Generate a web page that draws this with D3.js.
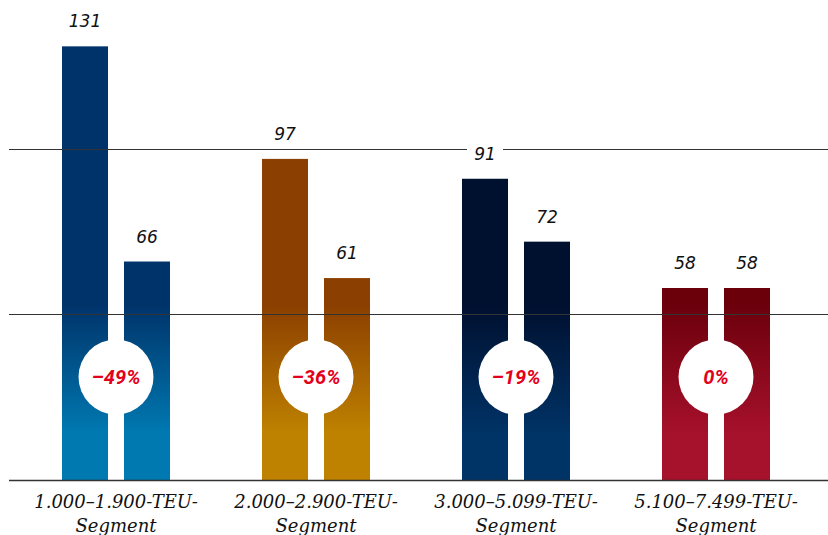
<!DOCTYPE html>
<html>
<head>
<meta charset="utf-8">
<script src="https://cdn.jsdelivr.net/npm/d3@7"></script>
<style>
  html, body { margin: 0; padding: 0; background: #fff; }
  svg { display: block; }
</style>
</head>
<body>
<div id="chart"></div>
<script>
(function () {
    // categories (two text lines each)
    const categories = ["1.000–1.900-TEU-Segment", "2.000–2.900-TEU-Segment", "3.000–5.099-TEU-Segment", "5.100–7.499-TEU-Segment"];
    const labelLines = [
        ["1.000–1.900-TEU-", "Segment"],
        ["2.000–2.900-TEU-", "Segment"],
        ["3.000–5.099-TEU-", "Segment"],
        ["5.100–7.499-TEU-", "Segment"],
    ];
    // first bar / second bar per segment
    const before = [131, 97, 91, 58];
    const after = [66, 61, 72, 58];
    const changes = ["–49%", "–36%", "–19%", "0%"];
    const gridValues = [0, 50, 100];

    // top / bottom colour of each segment's gradient
    const topColors = ["#00336a", "#8b3f00", "#00102f", "#6b000b"];
    const bottomColors = ["#0079b1", "#bf8200", "#003366", "#a6112b"];

    const width = 828;
    const height = 535;

    const svg = d3.select("#chart").append("svg")
        .attr("width", width)
        .attr("height", height);

    const x = d3.scaleBand().domain(categories).range([16, 816]).padding(0);
    const y = d3.scaleLinear().domain([0, 145]).range([480, 0]);

    const barW = 46;
    const innerGap = 16;

    const defs = svg.append("defs");
    categories.forEach((c, i) => {
        const grad = defs.append("linearGradient")
            .attr("id", "grad" + i)
            .attr("gradientUnits", "userSpaceOnUse")
            .attr("x1", 0).attr("x2", 0)
            .attr("y1", y(53)).attr("y2", y(14));
        grad.append("stop").attr("offset", "0%").attr("stop-color", topColors[i]);
        grad.append("stop").attr("offset", "100%").attr("stop-color", bottomColors[i]);
    });

    const rows = categories.map((c, i) => ({
        cat: c, i, before: before[i], after: after[i], change: changes[i],
    }));
    const bars = [];
    rows.forEach(d => {
        const cx = x(d.cat) + x.bandwidth() / 2;
        bars.push({ i: d.i, v: d.before, x0: cx - innerGap / 2 - barW });
        bars.push({ i: d.i, v: d.after, x0: cx + innerGap / 2 });
    });

    // bars
    svg.append("g")
        .selectAll("rect")
        .data(bars)
        .join("rect")
        .attr("x", d => d.x0)
        .attr("y", d => y(d.v))
        .attr("width", barW)
        .attr("height", d => y(0) - y(d.v))
        .attr("fill", d => `url(#grad${d.i})`);

    // change bubbles
    const bubbleY = 377;
    const bubbles = svg.append("g")
        .selectAll("g")
        .data(rows)
        .join("g")
        .attr("transform", d => `translate(${x(d.cat) + x.bandwidth() / 2},${bubbleY})`);
    bubbles.append("circle")
        .attr("r", 37.5)
        .attr("fill", "#fff");
    bubbles.append("text")
        .attr("text-anchor", "middle")
        .attr("y", 7)
        .attr("font-family", "Roboto, sans-serif")
        .attr("font-style", "italic")
        .attr("font-weight", "bold")
        .attr("font-size", 20)
        .attr("fill", "#e3001b")
        .text(d => d.change);

    // grid lines on top of the bars
    svg.append("g")
        .selectAll("line")
        .data(gridValues)
        .join("line")
        .attr("x1", 9).attr("x2", width)
        .attr("y1", d => Math.round(y(d)) + 0.5)
        .attr("y2", d => Math.round(y(d)) + 0.5)
        .attr("stroke", "#333")
        .attr("stroke-width", d => d === 0 ? 1.5 : 1.1);

    // value labels with white knock-out
    const vals = svg.append("g")
        .selectAll("g")
        .data(bars)
        .join("g")
        .attr("transform", d => `translate(${d.x0 + barW / 2},${y(d.v) - 19})`);
    vals.append("rect")
        .attr("x", -18).attr("y", -17)
        .attr("width", 36).attr("height", 22)
        .attr("fill", "#fff");
    vals.append("text")
        .attr("text-anchor", "middle")
        .attr("font-family", "'DejaVu Sans', sans-serif")
        .attr("font-style", "italic")
        .attr("font-size", 17)
        .attr("fill", "#111")
        .text(d => d.v);

    // category labels
    const cats = svg.append("g")
        .selectAll("text")
        .data(rows)
        .join("text")
        .attr("text-anchor", "middle")
        .attr("font-family", "'DejaVu Serif', serif")
        .attr("font-style", "italic")
        .attr("font-size", 18)
        .attr("fill", "#111");
    cats.each(function (d) {
        const t = d3.select(this);
        labelLines[d.i].forEach((line, k) => {
            t.append("tspan")
                .attr("x", x(d.cat) + x.bandwidth() / 2)
                .attr("y", 508 + k * 24)
                .text(line);
        });
    });
})();
</script>
</body>
</html>
